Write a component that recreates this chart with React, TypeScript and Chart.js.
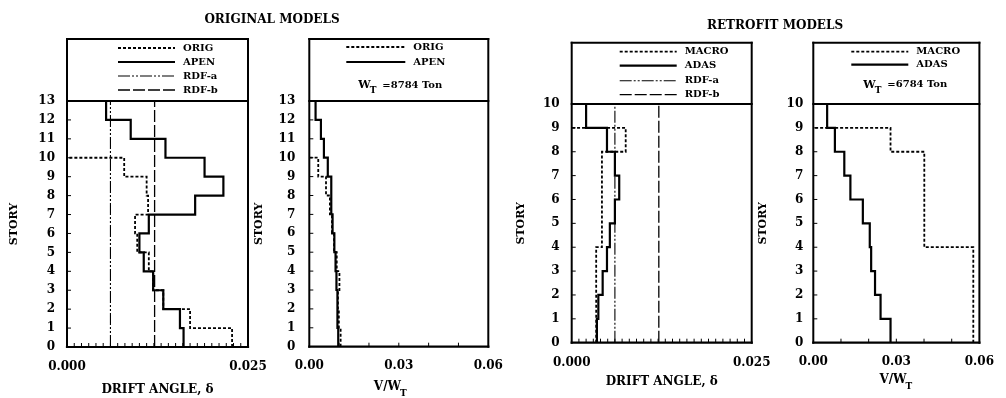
import React, { useEffect, useRef } from "react";
import { Chart, registerables } from "chart.js";

Chart.register(...registerables);

// ---------------- DATA (story 1 is the first entry) ----------------
// Original models - drift angle
const origDrift = [0.0228, 0.017, 0.0133, 0.0119, 0.0113, 0.0097, 0.0094, 0.0112, 0.011, 0.0079];
const apenDrift = [0.0161, 0.0156, 0.0133, 0.0119, 0.0106, 0.01, 0.0113, 0.0177, 0.0216, 0.019, 0.0136, 0.0088, 0.0054];
// Original models - storey shear ratio V/W_T
const origShear = [0.0105, 0.0099, 0.0096, 0.0101, 0.0092, 0.0083, 0.0076, 0.0069, 0.0056, 0.003];
const apenShear = [0.0097, 0.0095, 0.0094, 0.0091, 0.0088, 0.0084, 0.0078, 0.0073, 0.0074, 0.0062, 0.0049, 0.0039, 0.0021];
// Retrofit models - drift angle
const macroDrift = [0.0034, 0.0034, 0.0034, 0.0034, 0.0042, 0.0042, 0.0042, 0.0042, 0.0075];
const adasDrift = [0.0035, 0.0037, 0.0043, 0.0049, 0.0053, 0.006, 0.0066, 0.006, 0.0049, 0.002];
// Retrofit models - storey shear ratio V/W_T
const macroShear = [0.0578, 0.0578, 0.0578, 0.0578, 0.0401, 0.0401, 0.0401, 0.0401, 0.0279];
const adasShear = [0.0279, 0.0243, 0.0223, 0.0209, 0.0204, 0.0179, 0.0134, 0.0112, 0.0078, 0.005];
// Design drift limits
const rdfA = 0.006;
const rdfB = 0.0121;
// Axes
const originalStories = 13;
const retrofitStories = 10;
const driftTickLabels = [0, 0.025];
const shearTickLabels = [0, 0.03, 0.06];
const wtOriginal = "=8784 Ton";
const wtRetrofit = "=6784 Ton";
const titleOriginal = "ORIGINAL MODELS";
const titleRetrofit = "RETROFIT MODELS";
const driftTitle = "DRIFT ANGLE, \u03b4";
const storyTitle = "STORY";

// ---------------- helpers ----------------
const FONT = "'DejaVu Serif', serif";
const W = 1006;
const H = 398;

type Style = { dash: number[]; width: number };
const DOTTED: Style = { dash: [3, 2], width: 1.8 };
const SOLID: Style = { dash: [], width: 2.2 };
const DASHDOT: Style = { dash: [12, 2, 2, 2, 2, 2], width: 1.1 };
const LONGDASH: Style = { dash: [12, 3], width: 1.3 };

function stepPoints(vals: number[]) {
  const pts: { x: number; y: number }[] = [];
  vals.forEach((v, i) => {
    pts.push({ x: v, y: i });
    pts.push({ x: v, y: i + 1 });
  });
  pts.push({ x: 0, y: vals.length });
  return pts;
}
function vertical(v: number, n: number) {
  return [
    { x: v, y: 0 },
    { x: v, y: n },
  ];
}

type Series = { label: string; data: { x: number; y: number }[]; style: Style };
type Spec = {
  left: number;
  right: number;
  frameTop: number;
  plotTop: number;
  bottom: number;
  xMax: number;
  xLabels: number[];
  xDecimals: number;
  xMinor: number;
  yMax: number;
  yWidth: number;
  yPad: number;
  storyPad: number;
  xTickPad: number;
  xTitle?: string;
  xTitlePadBottom?: number;
  vwY?: number;
  vwDx?: number;
  series: Series[];
  legendSample: [number, number];
  legendText: number;
  legendRows: number[];
  wt?: string;
  wtRow?: number;
  wtX?: number;
  heading?: { text: string; x: number; y: number };
};

const panels: Spec[] = [
  {
    left: 67,
    right: 248,
    frameTop: 39,
    plotTop: 101,
    bottom: 347,
    xMax: 0.025,
    xLabels: driftTickLabels,
    xDecimals: 3,
    xMinor: 0.001,
    yMax: originalStories,
    yWidth: 60,
    yPad: 12,
    storyPad: 1,
    xTickPad: 13,
    xTitle: driftTitle,
    xTitlePadBottom: 1,
    series: [
      { label: "ORIG", data: stepPoints(origDrift), style: DOTTED },
      { label: "APEN", data: stepPoints(apenDrift), style: SOLID },
      { label: "RDF-a", data: vertical(rdfA, originalStories), style: DASHDOT },
      { label: "RDF-b", data: vertical(rdfB, originalStories), style: LONGDASH },
    ],
    legendSample: [51, 108],
    legendText: 116,
    legendRows: [9, 23, 37, 51],
    heading: { text: titleOriginal, x: 272, y: 20 },
  },
  {
    left: 309.3,
    right: 488.3,
    frameTop: 39,
    plotTop: 101,
    bottom: 346.7,
    xMax: 0.06,
    xLabels: shearTickLabels,
    xDecimals: 2,
    xMinor: 0.01,
    yMax: originalStories,
    yWidth: 57,
    yPad: 14,
    storyPad: 0,
    xTickPad: 12,
    vwY: 386.5,
    vwDx: -8,
    series: [
      { label: "ORIG", data: stepPoints(origShear), style: DOTTED },
      { label: "APEN", data: stepPoints(apenShear), style: SOLID },
    ],
    legendSample: [37, 96],
    legendText: 104,
    legendRows: [8, 23],
    wt: wtOriginal,
    wtRow: 46,
    wtX: 49,
  },
  {
    left: 571.7,
    right: 751.7,
    frameTop: 42.7,
    plotTop: 104,
    bottom: 342.7,
    xMax: 0.025,
    xLabels: driftTickLabels,
    xDecimals: 3,
    xMinor: 0.001,
    yMax: retrofitStories,
    yWidth: 57,
    yPad: 12,
    storyPad: 0,
    xTickPad: 13,
    xTitle: driftTitle,
    xTitlePadBottom: 9,
    series: [
      { label: "MACRO", data: stepPoints(macroDrift), style: DOTTED },
      { label: "ADAS", data: stepPoints(adasDrift), style: SOLID },
      { label: "RDF-a", data: vertical(rdfA, retrofitStories), style: DASHDOT },
      { label: "RDF-b", data: vertical(rdfB, retrofitStories), style: LONGDASH },
    ],
    legendSample: [48, 105],
    legendText: 113,
    legendRows: [9, 23, 38, 52],
    heading: { text: titleRetrofit, x: 775, y: 26 },
  },
  {
    left: 813.3,
    right: 992.7,
    frameTop: 42.7,
    plotTop: 104,
    bottom: 342.7,
    xMax: 0.06,
    xLabels: shearTickLabels,
    xDecimals: 2,
    xMinor: 0.01,
    yMax: retrofitStories,
    yWidth: 57,
    yPad: 10,
    storyPad: 0,
    xTickPad: 12,
    vwY: 380,
    vwDx: 0,
    series: [
      { label: "MACRO", data: stepPoints(macroShear), style: DOTTED },
      { label: "ADAS", data: stepPoints(adasShear), style: SOLID },
    ],
    legendSample: [38, 95],
    legendText: 103,
    legendRows: [9, 22],
    wt: wtRetrofit,
    wtRow: 42,
    wtX: 50,
  },
];

function line(ctx: CanvasRenderingContext2D, x1: number, y1: number, x2: number, y2: number) {
  ctx.beginPath();
  ctx.moveTo(x1, y1);
  ctx.lineTo(x2, y2);
  ctx.stroke();
}

function framePlugin(spec: Spec) {
  return {
    id: "frame",
    afterDatasetsDraw(chart: any) {
      const { ctx, chartArea } = chart;
      const xs = chart.scales.x;
      const ys = chart.scales.y;
      const L = chartArea.left;
      const R = chartArea.right;
      const T = chartArea.top;
      const B = chartArea.bottom;
      ctx.save();
      ctx.strokeStyle = "#000";
      ctx.fillStyle = "#000";
      ctx.setLineDash([]);
      ctx.lineCap = "square";
      ctx.lineWidth = 2;
      line(ctx, L, spec.frameTop, R, spec.frameTop);
      line(ctx, L, spec.frameTop, L, B);
      line(ctx, R, spec.frameTop, R, B);
      line(ctx, L, T, R, T);
      ctx.lineWidth = 2.2;
      line(ctx, L, B, R, B);
      // minor tick marks
      ctx.lineCap = "butt";
      ctx.lineWidth = 1;
      ctx.beginPath();
      const n = Math.round(spec.xMax / spec.xMinor);
      for (let i = 1; i < n; i++) {
        const px = xs.getPixelForValue(i * spec.xMinor);
        ctx.moveTo(px, B);
        ctx.lineTo(px, B - 4);
      }
      for (let s = 1; s < spec.yMax; s++) {
        const py = ys.getPixelForValue(s);
        ctx.moveTo(L, py);
        ctx.lineTo(L + 4, py);
      }
      ctx.stroke();
      // legend
      ctx.textBaseline = "middle";
      ctx.textAlign = "left";
      spec.series.forEach((s, i) => {
        const y = spec.frameTop + spec.legendRows[i];
        ctx.lineWidth = s.style.width;
        ctx.setLineDash(s.style.dash);
        line(ctx, L + spec.legendSample[0], y, L + spec.legendSample[1], y);
        ctx.setLineDash([]);
        ctx.font = `bold 10px ${FONT}`;
        ctx.fillText(s.label, L + spec.legendText, y);
      });
      if (spec.wt) {
        const y = spec.frameTop + (spec.wtRow as number);
        let x = L + (spec.wtX as number);
        ctx.font = `bold 11px ${FONT}`;
        ctx.fillText("W", x, y);
        x += ctx.measureText("W").width - 1;
        ctx.font = `bold 9px ${FONT}`;
        ctx.fillText("T", x, y + 6);
        x += ctx.measureText("T").width + 6;
        ctx.font = `bold 10px ${FONT}`;
        ctx.fillText(spec.wt, x, y);
      }
      // V/W_T axis title
      if (spec.vwY !== undefined) {
        ctx.font = `bold 12px ${FONT}`;
        const main = "V/W";
        const mw = ctx.measureText(main).width;
        ctx.font = `bold 9px ${FONT}`;
        const tw = ctx.measureText("T").width;
        const x = (L + R) / 2 - (mw + tw) / 2 + (spec.vwDx || 0);
        ctx.font = `bold 12px ${FONT}`;
        ctx.fillText(main, x, spec.vwY);
        ctx.font = `bold 9px ${FONT}`;
        ctx.fillText("T", x + mw - 1, spec.vwY + 7);
      }
      if (spec.heading) {
        ctx.font = `bold 12px ${FONT}`;
        ctx.textAlign = "center";
        ctx.fillText(spec.heading.text, spec.heading.x, spec.heading.y);
      }
      ctx.restore();
    },
  };
}

function buildConfig(spec: Spec): any {
  const xHeight = H - spec.bottom;
  const tickFont = { family: FONT, size: 12, weight: "bold" as const };
  return {
    type: "scatter",
    data: {
      datasets: spec.series.map((s) => ({
        label: s.label,
        data: s.data,
        showLine: true,
        borderColor: "#000",
        backgroundColor: "#000",
        borderWidth: s.style.width,
        borderDash: s.style.dash,
        pointRadius: 0,
        pointHoverRadius: 0,
        tension: 0,
        fill: false,
      })),
    },
    options: {
      animation: false,
      responsive: false,
      maintainAspectRatio: false,
      events: [],
      layout: {
        padding: { left: spec.left - spec.yWidth, right: W - spec.right, top: spec.plotTop, bottom: 0 },
      },
      plugins: { legend: { display: false }, tooltip: { enabled: false }, title: { display: false } },
      scales: {
        x: {
          type: "linear",
          min: 0,
          max: spec.xMax,
          grid: { display: false, drawTicks: false },
          border: { display: false },
          afterBuildTicks: (s: any) => {
            s.ticks = spec.xLabels.map((v) => ({ value: v }));
          },
          afterFit: (s: any) => {
            s.height = xHeight;
          },
          ticks: {
            autoSkip: false,
            maxRotation: 0,
            minRotation: 0,
            padding: spec.xTickPad,
            color: "#000",
            font: tickFont,
            callback: (v: any) => Number(v).toFixed(spec.xDecimals),
          },
          title: spec.xTitle
            ? {
                display: true,
                text: spec.xTitle,
                color: "#000",
                font: tickFont,
                padding: { top: 0, bottom: spec.xTitlePadBottom },
              }
            : { display: false },
        },
        y: {
          type: "linear",
          min: 0,
          max: spec.yMax,
          grid: { display: false, drawTicks: false },
          border: { display: false },
          afterFit: (s: any) => {
            s.width = spec.yWidth;
          },
          ticks: {
            stepSize: 1,
            autoSkip: false,
            padding: spec.yPad,
            color: "#000",
            font: tickFont,
            callback: (v: any) => String(v),
          },
          title: {
            display: true,
            text: storyTitle,
            color: "#000",
            font: { family: FONT, size: 11, weight: "bold" },
            padding: { top: spec.storyPad, bottom: 0 },
          },
        },
      },
    },
    plugins: [framePlugin(spec)],
  };
}

function Panel({ spec }: { spec: Spec }) {
  const ref = useRef<HTMLCanvasElement>(null);
  useEffect(() => {
    const chart = new Chart(ref.current as HTMLCanvasElement, buildConfig(spec));
    return () => chart.destroy();
  }, [spec]);
  return (
    <canvas
      ref={ref}
      width={W}
      height={H}
      style={{ position: "absolute", left: 0, top: 0, width: W, height: H }}
    />
  );
}

export default function App() {
  useEffect(() => {
    document.body.style.margin = "0";
  }, []);
  return (
    <div style={{ position: "relative", width: W, height: H, background: "#fff", overflow: "hidden" }}>
      {panels.map((p, i) => (
        <Panel key={i} spec={p} />
      ))}
    </div>
  );
}
